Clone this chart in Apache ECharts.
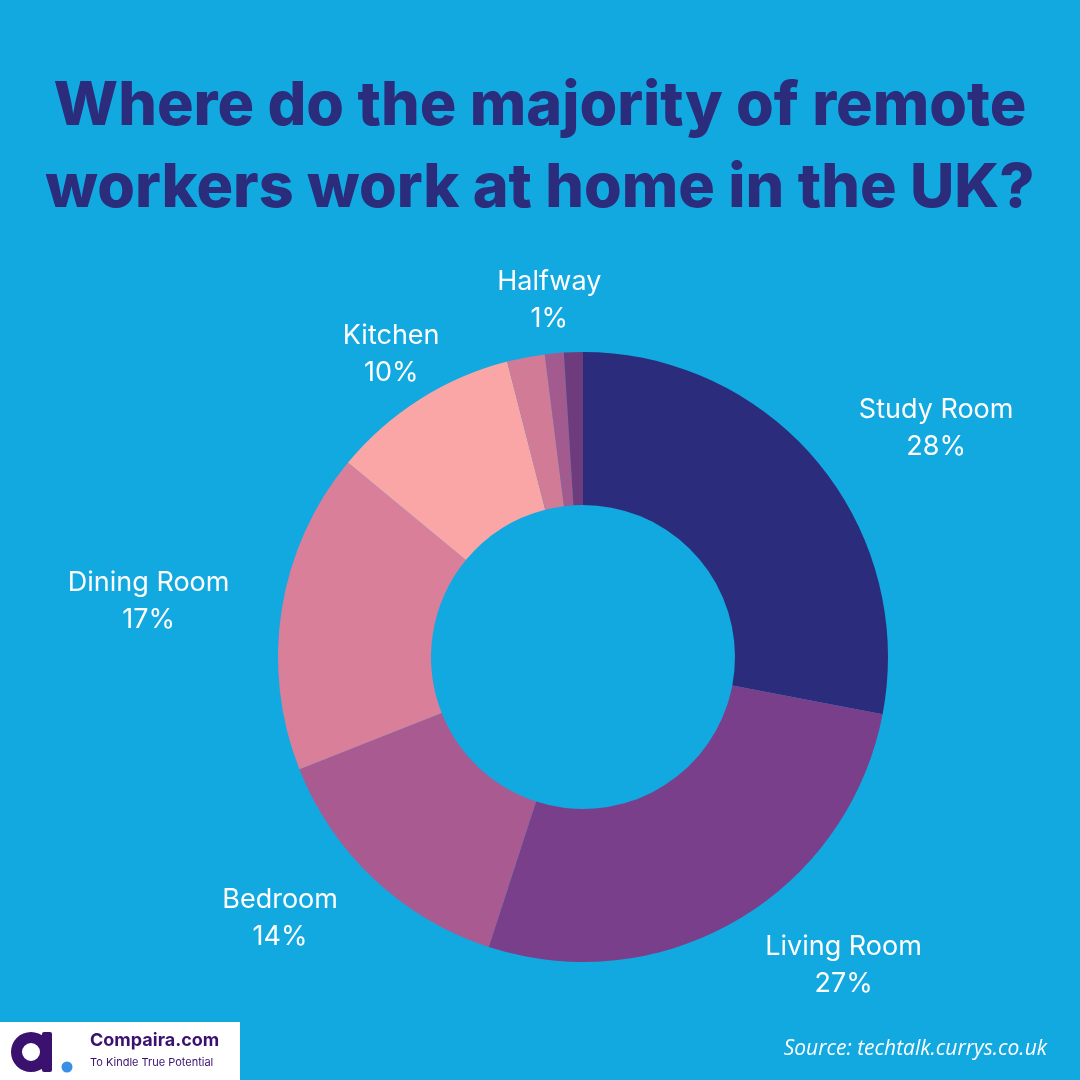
<!DOCTYPE html>
<html>
<head>
<meta charset="utf-8">
<script src="https://cdn.jsdelivr.net/npm/echarts@6/dist/echarts.min.js"></script>
<style>
html,body{margin:0;padding:0;background:#12a8e0;}
#chart{width:1080px;height:1080px;}
</style>
</head>
<body>
<div id="chart"></div>
<script>
// ---- data ----
const categories = ['Study Room', 'Living Room', 'Bedroom', 'Dining Room', 'Kitchen', 'Other', 'Halfway', 'Other room'];
const values = [28, 27, 14, 17, 10, 2, 1, 1];
const showLabel = [true, true, true, true, true, false, true, false];
const titleLines = ['Where do the majority of remote', 'workers work at home in the UK?'];
const sourceText = 'Source: techtalk.currys.co.uk';

// ---- style ----
const colors = ['#2b2d7c', '#7a3f8a', '#a95a91', '#da7f9a', '#fba6a6', '#d27b97', '#a35b8f', '#6e3b7c'];
const centeredLabels = ['Kitchen', 'Halfway'];

const chart = echarts.init(document.getElementById('chart'));
const seriesData = categories.map((c, i) => ({
  name: c,
  value: values[i],
  itemStyle: { color: colors[i] },
  label: { show: showLabel[i] }
}));

chart.setOption({
  backgroundColor: '#12a8e0',
  animation: false,
  title: {
    text: titleLines.join('\n'),
    left: 'center',
    top: 61,
    textStyle: {
      fontFamily: 'Inter',
      fontWeight: 800,
      fontSize: 61,
      lineHeight: 82,
      color: '#2b2c7b'
    }
  },
  series: [{
    type: 'pie',
    center: [583, 657],
    radius: [152, 305],
    startAngle: 90,
    clockwise: true,
    avoidLabelOverlap: false,
    label: {
      show: true,
      position: 'outside',
      distanceToLabelLine: 0,
      formatter: '{a|{b}}\n{a|{c}%}',
      rich: {
        a: {
          align: 'center',
          fontFamily: 'Inter',
          fontSize: 27,
          lineHeight: 37,
          color: '#ffffff'
        }
      }
    },
    labelLine: { show: false, length: 53, length2: 0 },
    labelLayout: function (p) {
      const idx = p.dataIndex;
      if (idx != null && centeredLabels.indexOf(categories[idx]) >= 0) {
        return { align: 'center' };
      }
      return {};
    },
    emphasis: { disabled: true },
    data: seriesData
  }],
  graphic: [
    {
      type: 'text',
      right: 33,
      top: 1039,
      style: {
        text: sourceText,
        fontFamily: 'Open Sans',
        fontStyle: 'italic',
        fontSize: 21,
        fill: '#ffffff'
      }
    },
    {
      type: 'rect',
      left: 0, top: 1022,
      shape: { width: 240, height: 58 },
      style: { fill: '#ffffff' }
    },
    {
      type: 'ring',
      shape: { cx: 31, cy: 1052, r: 20, r0: 9 },
      style: { fill: '#3b1170' }
    },
    {
      type: 'rect',
      shape: { x: 42, y: 1032, width: 10, height: 40, r: 2 },
      style: { fill: '#3b1170' }
    },
    {
      type: 'circle',
      shape: { cx: 67, cy: 1067, r: 5.5 },
      style: { fill: '#3a8ee6' }
    },
    {
      type: 'text',
      left: 90, top: 1032,
      style: {
        text: 'Compaira.com',
        fontFamily: 'Inter',
        fontWeight: 700,
        fontSize: 18,
        fill: '#3b1170'
      }
    },
    {
      type: 'text',
      left: 90, top: 1057,
      style: {
        text: 'To Kindle True Potential',
        fontFamily: 'Inter',
        fontSize: 11,
        fill: '#3b1170'
      }
    }
  ]
});
</script>
</body>
</html>
